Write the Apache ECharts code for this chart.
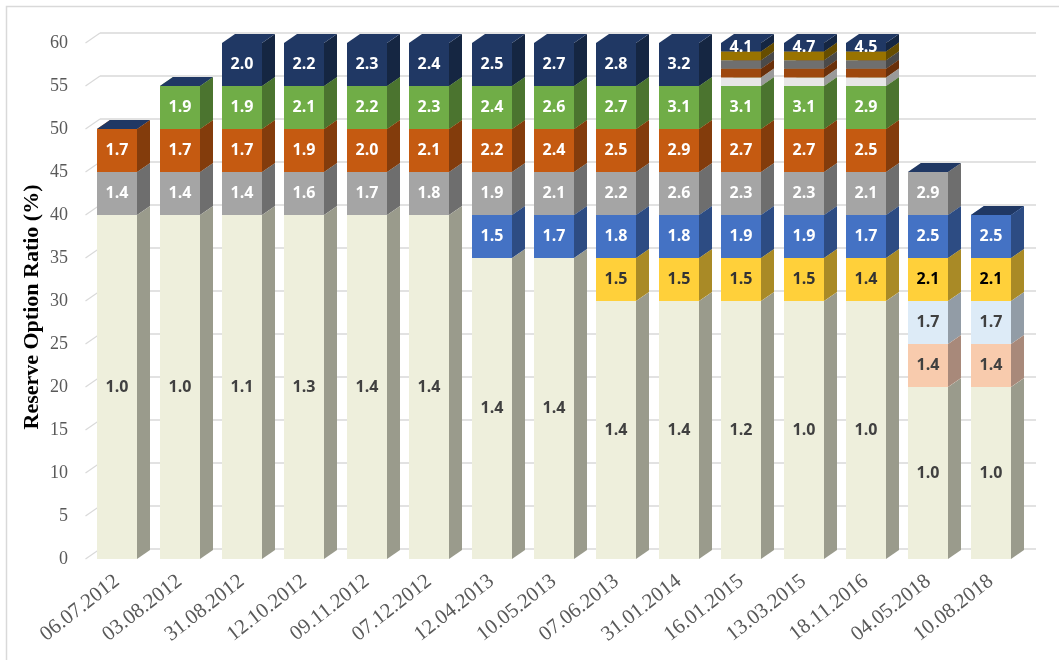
<!DOCTYPE html>
<html>
<head>
<meta charset="utf-8">
<script src="https://cdn.jsdelivr.net/npm/echarts@6/dist/echarts.min.js"></script>
<style>html,body{margin:0;padding:0;background:#fff}#c{width:1059px;height:660px}</style>
</head>
<body>
<div id="c"></div>
<script>
// ---------- data ----------
const categories = ['06.07.2012','03.08.2012','31.08.2012','12.10.2012','09.11.2012','07.12.2012','12.04.2013','10.05.2013','07.06.2013','31.01.2014','16.01.2015','13.03.2015','18.11.2016','04.05.2018','10.08.2018'];
const yTicks = [0,5,10,15,20,25,30,35,40,45,50,55,60];

// segment heights (reserve option ratio band, %)
const baseH      = [40,40,40,40,40,40,35,35,30,30,30,30,30,20,20];
const peachH     = [0,0,0,0,0,0,0,0,0,0,0,0,0,5,5];
const lightBlueH = [0,0,0,0,0,0,0,0,0,0,0,0,0,5,5];
const yellowH    = [0,0,0,0,0,0,0,0,5,5,5,5,5,5,5];
const blueH      = [0,0,0,0,0,0,5,5,5,5,5,5,5,5,5];
const grayH      = [5,5,5,5,5,5,5,5,5,5,5,5,5,5,0];
const orangeH    = [5,5,5,5,5,5,5,5,5,5,5,5,5,0,0];
const greenH     = [0,5,5,5,5,5,5,5,5,5,5,5,5,0,0];
const paleH      = [0,0,0,0,0,0,0,0,0,0,1,1,1,0,0];
const rustH      = [0,0,0,0,0,0,0,0,0,0,1,1,1,0,0];
const slateH     = [0,0,0,0,0,0,0,0,0,0,1,1,1,0,0];
const goldH      = [0,0,0,0,0,0,0,0,0,0,1,1,1,0,0];
const navyH      = [0,0,5,5,5,5,5,5,5,5,1,1,1,0,0];

// segment labels (reserve option coefficient)
const baseL      = [1.0,1.0,1.1,1.3,1.4,1.4,1.4,1.4,1.4,1.4,1.2,1.0,1.0,1.0,1.0];
const peachL     = [null,null,null,null,null,null,null,null,null,null,null,null,null,1.4,1.4];
const lightBlueL = [null,null,null,null,null,null,null,null,null,null,null,null,null,1.7,1.7];
const yellowL    = [null,null,null,null,null,null,null,null,1.5,1.5,1.5,1.5,1.4,2.1,2.1];
const blueL      = [null,null,null,null,null,null,1.5,1.7,1.8,1.8,1.9,1.9,1.7,2.5,2.5];
const grayL      = [1.4,1.4,1.4,1.6,1.7,1.8,1.9,2.1,2.2,2.6,2.3,2.3,2.1,2.9,null];
const orangeL    = [1.7,1.7,1.7,1.9,2.0,2.1,2.2,2.4,2.5,2.9,2.7,2.7,2.5,null,null];
const greenL     = [null,1.9,1.9,2.1,2.2,2.3,2.4,2.6,2.7,3.1,3.1,3.1,2.9,null,null];
const navyL      = [null,null,2.0,2.2,2.3,2.4,2.5,2.7,2.8,3.2,4.1,4.7,4.5,null,null];

// ---------- styling ----------
const DX = 13, DY = 9;          // bar depth
const WDX = 14, WDY = 10;       // wall depth
const BAR_FRAC = 0.64;

const layers = [
  {h: baseH,      l: baseL,      front:'#EEEFDC', side:'#9A9B8C', top:'#F3F4E6', lc:'#404040'},
  {h: peachH,     l: peachL,     front:'#F8CBAD', side:'#A8897A', top:'#F8CBAD', lc:'#404040'},
  {h: lightBlueH, l: lightBlueL, front:'#DDEBF7', side:'#929CA6', top:'#DDEBF7', lc:'#404040'},
  {h: yellowH,    l: yellowL,    front:'#FFD03A', side:'#A98A26', top:'#FFD03A', lc:'#333333', lcFn:(i)=> i>=13 ? '#000000' : '#333333'},
  {h: blueH,      l: blueL,      front:'#4472C4', side:'#2D4C83', top:'#4472C4', lc:'#FFFFFF'},
  {h: grayH,      l: grayL,      front:'#A5A5A5', side:'#6E6E6E', top:'#A5A5A5', lc:'#FFFFFF'},
  {h: orangeH,    l: orangeL,    front:'#C55A11', side:'#833C0C', top:'#C55A11', lc:'#FFFFFF'},
  {h: greenH,     l: greenL,     front:'#70AD47', side:'#4B742F', top:'#70AD47', lc:'#FFFFFF'},
  {h: paleH,      l: null,       front:'#E7E6E6', side:'#9A9A9A', top:'#E7E6E6', lc:'#FFFFFF'},
  {h: rustH,      l: null,       front:'#9E480E', side:'#6A300A', top:'#9E480E', lc:'#FFFFFF'},
  {h: slateH,     l: null,       front:'#6F6F6F', side:'#4A4A4A', top:'#6F6F6F', lc:'#FFFFFF'},
  {h: goldH,      l: null,       front:'#997300', side:'#664D00', top:'#997300', lc:'#FFFFFF'},
  {h: navyH,      l: navyL,      front:'#203864', side:'#152642', top:'#203864', lc:'#FFFFFF', alwaysTop:true}
];

const cum = categories.map(()=>0);
const series = [];

// back wall gridlines
series.push({
  type:'custom', name:'wall', z:1, silent:true,
  data: yTicks.map(v=>[0, v]),
  renderItem: function(params, api){
    const cs = params.coordSys;
    const p = api.coord([0, api.value(1)]);
    const y = p[1];
    const lx = cs.x, rx = cs.x + cs.width;
    return {type:'group', children:[
      {type:'line', shape:{x1:lx-0.5, y1:y, x2:lx+WDX, y2:y-WDY}, style:{stroke:'#D9D9D9', lineWidth:1.2}},
      {type:'line', shape:{x1:lx+WDX, y1:y-WDY, x2:rx+WDX, y2:y-WDY}, style:{stroke:'#D9D9D9', lineWidth:1.5}}
    ]};
  }
});

layers.forEach((L, li) => {
  const data = categories.map((c, i) => {
    const b = cum[i];
    cum[i] += L.h[i];
    return [i, b, L.h[i]];
  });
  series.push({
    type:'custom', name:'layer'+li, z:2+li, silent:true,
    data: data,
    renderItem: function(params, api){
      const i = api.value(0), b = api.value(1), h = api.value(2);
      if (h <= 0 && !L.alwaysTop) return null;
      const p0 = api.coord([i, b]);
      const p1 = api.coord([i, b + h]);
      const bw = api.size([1, 0])[0] * BAR_FRAC;
      const x0 = Math.round(p0[0] - bw/2), x1 = Math.round(p0[0] + bw/2);
      const yb = p0[1], yt = p1[1];
      const children = [];
      if (h > 0) {
        children.push({type:'polygon', shape:{points:[[x1,yb],[x1+DX,yb-DY],[x1+DX,yt-DY],[x1,yt]]}, style:{fill:L.side}});
        children.push({type:'rect', shape:{x:x0, y:yt, width:x1-x0, height:yb-yt}, style:{fill:L.front}});
      }
      children.push({type:'polygon', shape:{points:[[x0,yt],[x1,yt],[x1+DX,yt-DY],[x0+DX,yt-DY]]}, style:{fill:L.top}});
      const lv = L.l ? L.l[i] : null;
      if (lv != null && h > 0) {
        children.push({type:'text', style:{
          text: lv.toFixed(1), x:(x0+x1)/2, y:(yb+yt)/2, align:'center', verticalAlign:'middle',
          fill: L.lcFn ? L.lcFn(i) : L.lc, font: 'bold 16px "Open Sans", "Noto Sans", sans-serif'
        }, z2: 10});
      }
      return {type:'group', children: children};
    }
  });
});

const chart = echarts.init(document.getElementById('c'), null, {renderer:'canvas'});
chart.setOption({
  animation:false,
  backgroundColor:'#ffffff',
  graphic:[
    {type:'rect', shape:{x:6.5, y:6.5, width:1100, height:700}, style:{fill:'none', stroke:'#D9D9D9', lineWidth:1.5}, z:0},
    {type:'text', x:32, y:307, rotation:Math.PI/2, style:{text:'Reserve Option Ratio (%)', font:'bold 22px "Liberation Serif", "Times New Roman", serif', fill:'#000000', align:'center', verticalAlign:'middle'}}
  ],
  grid:{left:86, right:37, top:43, bottom:101},
  xAxis:{
    type:'category', data:categories, boundaryGap:true,
    axisLine:{show:false}, axisTick:{show:false}, splitLine:{show:false},
    axisLabel:{rotate:38, margin:20, color:'#595959', fontFamily:'"Liberation Serif", "Times New Roman", serif', fontSize:21, interval:0}
  },
  yAxis:{
    type:'value', min:0, max:60, interval:5,
    axisLine:{show:false}, axisTick:{show:false}, splitLine:{show:false},
    axisLabel:{margin:18, color:'#595959', fontFamily:'"Liberation Serif", "Times New Roman", serif', fontSize:18}
  },
  series: series
});
</script>
</body>
</html>
